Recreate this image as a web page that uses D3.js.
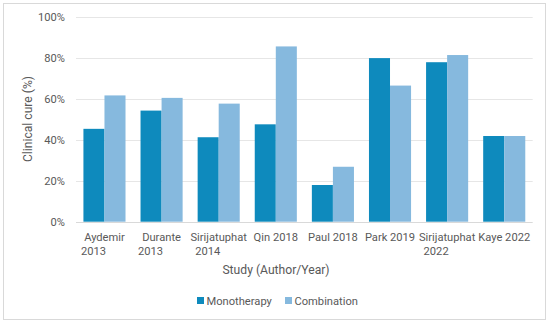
<!DOCTYPE html>
<html><head><meta charset="utf-8">
<script src="https://cdn.jsdelivr.net/npm/d3@7"></script>
<style>body{margin:0;background:#fff}svg{display:block}text{font-family:Roboto,sans-serif;fill:#595959}</style>
</head><body><svg id="c" width="550" height="325"></svg>
<script>
const studies = ["Aydemir 2013","Durante 2013","Sirijatuphat 2014","Qin 2018","Paul 2018","Park 2019","Sirijatuphat 2022","Kaye 2022"];
const studyLines = [["Aydemir","2013"],["Durante","2013"],["Sirijatuphat","2014"],["Qin 2018"],["Paul 2018"],["Park 2019"],["Sirijatuphat","2022"],["Kaye 2022"]];
const monotherapy = [45.3, 54.2, 41.2, 47.5, 17.9, 79.8, 77.8, 41.8];
const combination = [61.6, 60.4, 57.6, 85.5, 26.8, 66.4, 81.3, 41.8];
const seriesNames = ["Monotherapy","Combination"];
const colors = ["#0e8abd","#86b9de"];
const yTicks = [0,20,40,60,80,100];

const svg = d3.select("#c");
svg.append("rect").attr("x",3.5).attr("y",3.5).attr("width",542).attr("height",316)
  .attr("fill","#fff").attr("stroke","#d9d9d9");

// measure font to match reference text widths ("Sirijatuphat" ≈ 56px)
const probe = svg.append("text").attr("font-size","12px").text("Sirijatuphat");
const fs = Math.min(12.5, 12 * 56.5 / probe.node().getComputedTextLength());
probe.remove();
const fsT = fs * 1.09;

const x0 = d3.scaleBand().domain(studies).range([76,532.7]).paddingInner(0.263).paddingOuter(0.13);
const x1 = d3.scaleBand().domain(seriesNames).range([0,x0.bandwidth()]);
const y = d3.scaleLinear().domain([0,100]).range([221.7,16.7]);

svg.append("g").selectAll("line").data(yTicks).join("line")
  .attr("x1",76).attr("x2",532.7).attr("y1",d=>Math.round(y(d))+0.5).attr("y2",d=>Math.round(y(d))+0.5)
  .attr("stroke",d=>d===0?"#d9d9d9":"#e6e6e6").attr("stroke-width",1);

const yAxis = d3.axisLeft(y).tickValues(yTicks).tickFormat(d=>d+"%").tickSize(0).tickPadding(0);
const ga = svg.append("g").attr("transform","translate(65,0)").call(yAxis);
ga.select(".domain").remove();
ga.selectAll("text").attr("font-size",fs+"px").attr("fill","#595959").attr("font-family","Roboto, sans-serif");

const data = studies.map((s,i)=>({s, vals:[monotherapy[i],combination[i]]}));
const groups = svg.append("g").selectAll("g").data(data).join("g")
  .attr("transform",d=>`translate(${x0(d.s)},0)`);
groups.selectAll("rect").data(d=>d.vals.map((v,j)=>({v,name:seriesNames[j],j}))).join("rect")
  .attr("x",d=>x1(d.name)).attr("width",x1.bandwidth())
  .attr("y",d=>y(d.v)).attr("height",d=>y(0)-y(d.v))
  .attr("fill",d=>colors[d.j]);

const xl = svg.append("g").selectAll("text").data(studies).join("text")
  .attr("font-size",fs+"px").attr("text-anchor","middle");
xl.each(function(s,i){
  const cx = x0(s)+x0.bandwidth()/2;
  const lines = studyLines[i];
  d3.select(this).selectAll("tspan").data(lines).join("tspan")
    .attr("x",(l,k)=>k===0?cx:cx-11).attr("y",(l,k)=>240.5+k*14).text(l=>l);
});

svg.append("text").attr("x",276).attr("y",273.5).attr("text-anchor","middle").attr("font-size",fsT+"px").text("Study (Author/Year)");
svg.append("text").attr("transform","translate(32,119) rotate(-90)").attr("text-anchor","middle").attr("font-size",fsT+"px").text("Clinical cure (%)");

const legX = [197,285];
const lg = svg.append("g").selectAll("g").data(seriesNames).join("g")
  .attr("transform",(d,i)=>`translate(${legX[i]},0)`);
lg.append("rect").attr("x",0).attr("y",297).attr("width",7).attr("height",7).attr("fill",(d,i)=>colors[i]);
lg.append("text").attr("x",9.5).attr("y",304.5).attr("font-size",fs+"px").text(d=>d);
</script></body></html>
